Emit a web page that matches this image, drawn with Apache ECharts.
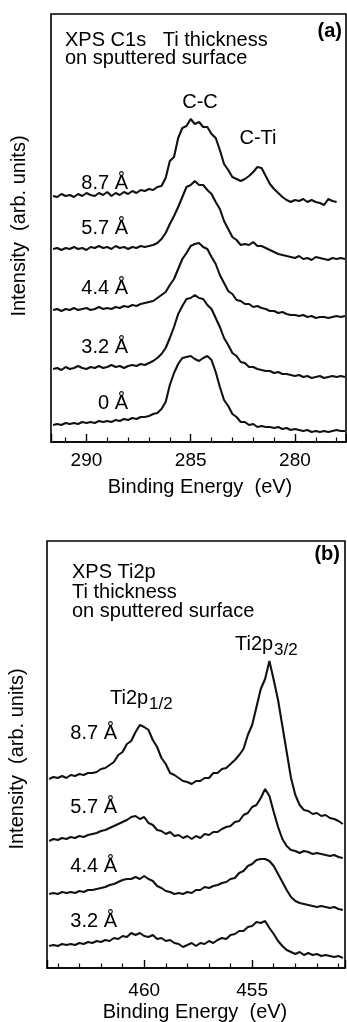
<!DOCTYPE html>
<html>
<head>
<meta charset="utf-8">
<script src="https://cdn.jsdelivr.net/npm/echarts@6/dist/echarts.min.js"></script>
<style>
html, body { margin: 0; padding: 0; background: #fff; }
#main { width: 347px; height: 1022px; }
</style>
</head>
<body>
<div id="main"></div>
<script>
// (a) C1s, binding energy grid (eV)
var energyA = [291.6, 291.4, 291.2, 291.0, 290.8, 290.6, 290.4, 290.2, 290.0, 289.8,
    289.6, 289.4, 289.2, 289.0, 288.8, 288.6, 288.4, 288.2, 288.0, 287.8,
    287.6, 287.4, 287.2, 287.0, 286.8, 286.6, 286.4, 286.2, 286.0, 285.8,
    285.6, 285.4, 285.2, 285.0, 284.8, 284.6, 284.4, 284.2, 284.0, 283.8,
    283.6, 283.4, 283.2, 283.0, 282.8, 282.6, 282.4, 282.2, 282.0, 281.8,
    281.6, 281.4, 281.2, 281.0, 280.8, 280.6, 280.4, 280.2, 280.0, 279.8,
    279.6, 279.4, 279.2, 279.0, 278.8, 278.6, 278.4, 278.2, 278.0, 277.8, 277.6];

// intensities (arb. units, stacked offsets included)
var c1s_87 = [246, 245, 248, 246, 247, 245, 248, 246, 249, 247,
    246, 249, 247, 250, 246, 249, 247, 250, 248, 251,
    249, 252, 251, 253, 252, 255, 256, 264, 281, 285,
    304, 314, 316, 323, 318, 320, 315, 315, 308, 304,
    292, 278, 272, 265, 263, 261, 263, 266, 270, 275,
    274, 266, 258, 253, 249, 245, 242, 240, 242, 241,
    243, 240, 242, 240, 239, 237, 243, 241, 240, null, null];
var c1s_57 = [193, 194, 192, 194, 193, 195, 193, 194, 192, 195,
    194, 196, 194, 195, 193, 196, 194, 195, 193, 195,
    194, 196, 195, 196, 197, 199, 203, 209, 218, 226,
    235, 245, 255, 257, 261, 257, 257, 252, 248, 240,
    233, 221, 213, 205, 202, 197, 198, 197, 200, 196,
    196, 194, 192, 190, 188, 187, 186, 185, 184, 186,
    183, 184, 182, 185, 184, 183, 182, 184, 183, 184, 183];
var c1s_44 = [132, 133, 131, 133, 132, 134, 132, 133, 134, 132,
    133, 135, 133, 134, 133, 135, 134, 136, 135, 137,
    136, 138, 139, 140, 141, 144, 147, 150, 157, 163,
    173, 183, 189, 196, 198, 199, 195, 193, 185, 178,
    167, 159, 151, 148, 142, 141, 138, 138, 135, 136,
    134, 133, 131, 131, 129, 130, 128, 127, 127, 126,
    127, 125, 126, 124, 125, 125, 124, 125, 126, 125, 126];
var c1s_32 = [73, 74, 72, 75, 73, 74, 76, 74, 73, 75,
    74, 76, 74, 75, 77, 75, 76, 74, 76, 77,
    76, 78, 77, 79, 81, 84, 88, 94, 104, 115,
    128, 136, 143, 144, 147, 144, 143, 137, 133, 124,
    115, 104, 97, 89, 86, 80, 79, 75, 75, 73,
    72, 71, 71, 69, 70, 68, 68, 67, 66, 67,
    65, 66, 64, 65, 66, 64, 65, 66, 65, 66, 65];
var c1s_0 = [17, 18, 17, 19, 18, 19, 18, 20, 19, 20,
    19, 21, 20, 21, 20, 22, 21, 23, 22, 24,
    23, 25, 25, 26, 28, 29, 33, 40, 57, 69,
    78, 84, 85, 86, 83, 81, 84, 86, 82, 70,
    55, 42, 36, 28, 25, 20, 20, 17, 18, 15,
    16, 15, 15, 14, 15, 13, 14, 12, 13, 12,
    11, 12, 10, 11, 10, 11, 10, 11, 12, 11, 11];

// (b) Ti2p
var energyB = [464.4, 464.2, 464.0, 463.8, 463.6, 463.4, 463.2, 463.0, 462.8, 462.6,
    462.4, 462.2, 462.0, 461.8, 461.6, 461.4, 461.2, 461.0, 460.8, 460.6,
    460.4, 460.2, 460.0, 459.8, 459.6, 459.4, 459.2, 459.0, 458.8, 458.6,
    458.4, 458.2, 458.0, 457.8, 457.6, 457.4, 457.2, 457.0, 456.8, 456.6,
    456.4, 456.2, 456.0, 455.8, 455.6, 455.4, 455.2, 455.0, 454.8, 454.6,
    454.4, 454.2, 454.0, 453.8, 453.6, 453.4, 453.2, 453.0, 452.8, 452.6,
    452.4, 452.2, 452.0, 451.8, 451.6, 451.4, 451.2, 451.0, 450.8];

var ti2p_87 = [189, 191, 190, 192, 190, 193, 192, 194, 193, 195,
    195, 196, 199, 200, 203, 206, 213, 216, 224, 227,
    236, 243, 241, 238, 228, 221, 210, 204, 195, 193,
    190, 187, 186, 184, 187, 187, 190, 190, 195, 195,
    199, 200, 204, 208, 213, 219, 233, 243, 261, 279,
    289, 307, 288, 268, 242, 216, 190, 173, 163, 158,
    157, 154, 155, 152, 153, 150, 149, 147, 144];
var ti2p_57 = [127, 129, 128, 130, 129, 131, 130, 132, 131, 133,
    134, 135, 137, 138, 140, 142, 144, 146, 148, 151,
    152, 149, 151, 145, 143, 138, 137, 134, 136, 132,
    133, 130, 132, 129, 132, 130, 134, 133, 136, 136,
    139, 141, 142, 146, 147, 153, 155, 161, 163, 170,
    179, 172, 156, 141, 129, 122, 118, 117, 115, 117,
    116, 114, 115, 114, 113, 112, 113, 111, 110];
var ti2p_44 = [74, 75, 74, 76, 75, 76, 75, 77, 76, 78,
    78, 79, 80, 81, 83, 84, 86, 88, 89, 89,
    91, 89, 92, 89, 87, 82, 80, 77, 76, 74,
    75, 74, 76, 75, 78, 78, 81, 80, 82, 83,
    85, 86, 89, 90, 95, 97, 102, 104, 108, 109,
    109, 107, 102, 94, 86, 78, 71, 67, 65, 64,
    63, 62, 61, 62, 61, 60, 61, 59, 58];
var ti2p_32 = [22, 23, 22, 24, 23, 24, 23, 25, 24, 26,
    25, 27, 26, 28, 27, 30, 29, 32, 31, 35,
    33, 35, 32, 31, 33, 29, 30, 27, 28, 25,
    24, 21, 23, 25, 22, 25, 24, 27, 25, 28,
    30, 29, 33, 34, 37, 37, 41, 42, 46, 45,
    47, 40, 34, 27, 22, 18, 16, 14, 16, 13,
    15, 13, 14, 12, 13, 12, 11, 12, 10];

var FONT = '"Liberation Sans", Arial, Helvetica, sans-serif';

var pairs = function (xs, ys) {
    var out = [];
    for (var i = 0; i < xs.length; i++) {
        out.push([xs[i], ys[i]]);
    }
    return out;
};

var spectrum = function (idx, xs, ys) {
    return {
        type: 'line',
        xAxisIndex: idx,
        yAxisIndex: idx,
        data: pairs(xs, ys),
        showSymbol: false,
        connectNulls: false,
        silent: true,
        lineStyle: { color: '#111', width: 2.1 }
    };
};

var energyAxis = function (idx, min, max, margin) {
    return {
        type: 'value',
        gridIndex: idx,
        min: min,
        max: max,
        inverse: true,
        splitNumber: 3,
        axisLine: { lineStyle: { color: '#000', width: 1.6 } },
        axisTick: { inside: true, length: 8, lineStyle: { color: '#000', width: 1.4 } },
        minorTick: { show: true, splitNumber: 5, length: 4.5, lineStyle: { color: '#000', width: 1.2 } },
        axisLabel: {
            margin: margin, color: '#000', fontSize: 19, fontFamily: FONT,
            showMinLabel: false, showMaxLabel: false
        },
        splitLine: { show: false }
    };
};

var txt = function (s, x, y, size, align, extra) {
    var el = {
        type: 'text', x: x, y: y,
        style: {
            text: s, fill: '#000', fontSize: size, fontFamily: FONT,
            align: align, textAlign: align,
            verticalAlign: 'middle', textVerticalAlign: 'middle'
        }
    };
    if (extra) {
        for (var k in extra) el[k] = extra[k];
    }
    return el;
};

var boldTxt = function (s, x, y) {
    var el = txt(s, x, y, 20, 'right');
    el.style.fontWeight = 'bold';
    return el;
};

var myChart = echarts.init(document.getElementById('main'), null, { renderer: 'canvas' });
var option = {
    animation: false,
    backgroundColor: '#fff',
    grid: [
        { left: 51, top: 14, width: 295, height: 428, show: true, borderColor: '#000', borderWidth: 1.6 },
        { left: 47, top: 541, width: 298, height: 427, show: true, borderColor: '#000', borderWidth: 1.6 }
    ],
    xAxis: [
        energyAxis(0, 277.55, 291.7, 9),
        energyAxis(1, 450.7, 464.5, 13)
    ],
    yAxis: [
        { type: 'value', gridIndex: 0, min: 0, max: 428, show: false },
        { type: 'value', gridIndex: 1, min: 0, max: 427, show: false }
    ],
    series: [
        spectrum(0, energyA, c1s_87),
        spectrum(0, energyA, c1s_57),
        spectrum(0, energyA, c1s_44),
        spectrum(0, energyA, c1s_32),
        spectrum(0, energyA, c1s_0),
        spectrum(1, energyB, ti2p_87),
        spectrum(1, energyB, ti2p_57),
        spectrum(1, energyB, ti2p_44),
        spectrum(1, energyB, ti2p_32)
    ],
    graphic: [
        // panel (a)
        txt('XPS C1s   Ti thickness', 65, 40, 20, 'left'),
        txt('on sputtered surface', 65, 58, 20, 'left'),
        boldTxt('(a)', 342, 31),
        txt('C-C', 200, 102, 20, 'center'),
        txt('C-Ti', 258, 138, 20, 'center'),
        txt('8.7 Å', 128, 183, 20, 'right'),
        txt('5.7 Å', 128, 228, 20, 'right'),
        txt('4.4 Å', 128, 288, 20, 'right'),
        txt('3.2 Å', 128, 347, 20, 'right'),
        txt('0 Å', 128, 403, 20, 'right'),
        txt('Binding Energy  (eV)', 200, 487, 20, 'center'),
        txt('Intensity  (arb. units)', 19, 226, 20, 'center', { rotation: Math.PI / 2 }),
        // panel (b)
        txt('XPS Ti2p', 72, 572, 20, 'left'),
        txt('Ti thickness', 72, 592, 20, 'left'),
        txt('on sputtered surface', 72, 611, 20, 'left'),
        boldTxt('(b)', 340, 554),
        txt('Ti2p', 235, 644, 20, 'left'),
        txt('3/2', 274, 650, 17, 'left'),
        txt('Ti2p', 110, 698, 20, 'left'),
        txt('1/2', 149, 704, 17, 'left'),
        txt('8.7 Å', 117, 733, 20, 'right'),
        txt('5.7 Å', 117, 807, 20, 'right'),
        txt('4.4 Å', 117, 866, 20, 'right'),
        txt('3.2 Å', 117, 921, 20, 'right'),
        txt('Binding Energy  (eV)', 195, 1012, 20, 'center'),
        txt('Intensity  (arb. units)', 17, 759, 20, 'center', { rotation: Math.PI / 2 })
    ]
};
myChart.setOption(option);
window.onresize = myChart.resize;
</script>
</body>
</html>
